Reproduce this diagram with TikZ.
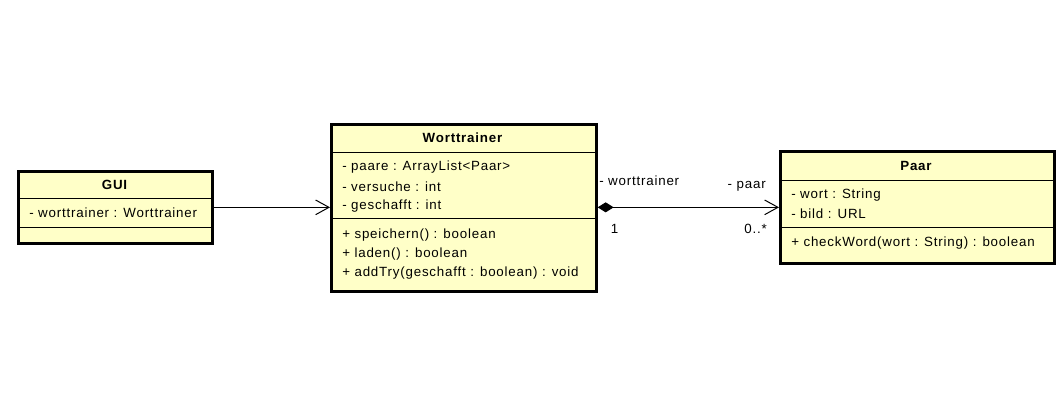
\documentclass[tikz,border=0pt]{standalone}
\usepackage{fontspec}
\setmainfont{Liberation Sans}[LetterSpace=6]
\usetikzlibrary{arrows.meta}
\definecolor{classfill}{RGB}{255,255,200}
\tikzset{
  classbox/.style={draw, line width=2pt, fill=classfill, inner sep=0pt, anchor=north west},
  member/.style={anchor=west, inner sep=0.75pt, font=\fontsize{10}{12}\selectfont},
  title/.style={inner sep=0.75pt, font=\fontsize{10}{12}\selectfont\bfseries},
  rolelabel/.style={inner sep=0.75pt, font=\fontsize{10}{12}\selectfont},
  openhead/.style={-{Straight Barb[length=10pt,width=11pt,line width=0.75pt]}},
}
\begin{document}
\begin{tikzpicture}[x=0.75pt,y=0.75pt,yscale=-1,xscale=1]
\useasboundingbox (0,0) rectangle (1060,415);

%Shape: Class GUI
\node [classbox, minimum width=145.5pt, minimum height=54pt] (gui) at (17,170) {};
\draw [line width=0.75pt] (17,198) -- (212,198) ;
\draw [line width=0.75pt] (17,227) -- (212,227) ;

%Shape: Class Worttrainer
\node [classbox, minimum width=198.75pt, minimum height=125.25pt] (wt) at (330,123) {};
\draw [line width=0.75pt] (330,152) -- (595,152) ;
\draw [line width=0.75pt] (330,218) -- (595,218) ;

%Shape: Class Paar
\node [classbox, minimum width=205.5pt, minimum height=84pt] (paar) at (779,150) {};
\draw [line width=0.75pt] (779,180) -- (1053,180) ;
\draw [line width=0.75pt] (779,227) -- (1053,227) ;

%Straight Lines: GUI -> Worttrainer
\draw [openhead, line width=0.75pt] (gui.east) -- (wt.west |- gui.east) ;
%Straight Lines: Worttrainer <>-> Paar
\draw [{Diamond[length=12pt,width=7.5pt]}-{Straight Barb[length=10pt,width=11pt,line width=0.75pt]}, line width=0.75pt] (wt.east |- paar.west) -- (paar.west) ;

% Text Node
\node [title] (guiname) at (114.5,185) {GUI};
% Text Node
\node [member] (guiattr) at (28,213) {- worttrainer : Worttrainer};

% Text Node
\node [title] (wtname) at (462.5,138) {Worttrainer};
% Text Node
\node [member] (wtattr1) at (341,167.5) {- paare : ArrayList<Paar>};
\node [member] (wtattr2) at (341,187) {- versuche : int};
\node [member] (wtattr3) at (341,206.5) {- geschafft : int};
% Text Node
\node [member] (wtop1) at (341,235.5) {+ speichern() : boolean};
\node [member] (wtop2) at (341,254.5) {+ laden() : boolean};
\node [member] (wtop3) at (341,273) {+ addTry(geschafft : boolean) : void};

% Text Node
\node [title] (paarname) at (916,166) {Paar};
% Text Node
\node [member] (paarattr1) at (790,195) {- wort : String};
\node [member] (paarattr2) at (790,214) {- bild : URL};
% Text Node
\node [member] (paarop1) at (790,243) {+ checkWord(wort : String) : boolean};

% Text Node
\node [rolelabel, anchor=west] (rolewt) at (598,181) {- worttrainer};
\node [rolelabel] (multwt) at (614.5,229) {1};
\node [rolelabel, anchor=east] (rolepaar) at (767,186) {- paar};
\node [rolelabel, anchor=east] (multpaar) at (768,229) {0..*};

\end{tikzpicture}
\end{document}
